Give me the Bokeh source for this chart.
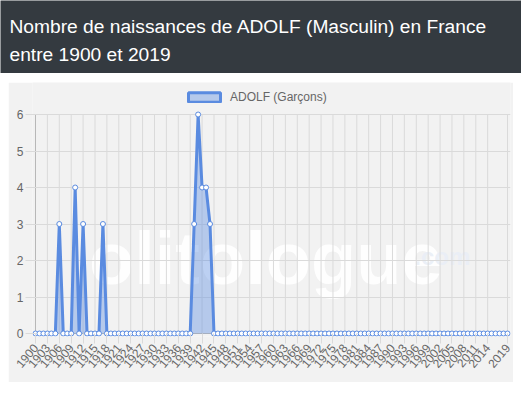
import math
from bokeh.plotting import figure
from bokeh.models import (Range1d, FixedTicker, Label, Legend, LegendItem,
                          ColumnDataSource, Spacer)
from bokeh.layouts import column, row
from bokeh.embed import file_html
from bokeh.resources import INLINE

# ---------------- data ----------------
years = list(range(1900, 2020))
births = [
    0, 0, 0, 0, 0, 0, 3, 0, 0, 0,   # 1900-1909
    4, 0, 3, 0, 0, 0, 0, 3, 0, 0,   # 1910-1919
    0, 0, 0, 0, 0, 0, 0, 0, 0, 0,   # 1920-1929
    0, 0, 0, 0, 0, 0, 0, 0, 0, 0,   # 1930-1939
    3, 6, 4, 4, 3, 0, 0, 0, 0, 0,   # 1940-1949
    0, 0, 0, 0, 0, 0, 0, 0, 0, 0,   # 1950-1959
    0, 0, 0, 0, 0, 0, 0, 0, 0, 0,   # 1960-1969
    0, 0, 0, 0, 0, 0, 0, 0, 0, 0,   # 1970-1979
    0, 0, 0, 0, 0, 0, 0, 0, 0, 0,   # 1980-1989
    0, 0, 0, 0, 0, 0, 0, 0, 0, 0,   # 1990-1999
    0, 0, 0, 0, 0, 0, 0, 0, 0, 0,   # 2000-2009
    0, 0, 0, 0, 0, 0, 0, 0, 0, 0,   # 2010-2019
]
x_tick_labels = ["1900", "1903", "1906", "1909", "1912", "1915", "1918", "1921",
                 "1924", "1927", "1930", "1933", "1936", "1939", "1942", "1945",
                 "1948", "1951", "1954", "1957", "1960", "1963", "1966", "1969",
                 "1972", "1975", "1978", "1981", "1984", "1987", "1990", "1993",
                 "1996", "1999", "2002", "2005", "2008", "2011", "2014", "2019"]
y_ticks = [0, 1, 2, 3, 4, 5, 6]
series_label = "ADOLF (Garçons)"
title_line1 = "Nombre de naissances de ADOLF (Masculin) en France"
title_line2 = "entre 1900 et 2019"

# ---------------- styles ----------------
FONT = "Liberation Sans"
LINE = "#5a8be0"
PANEL = "#f2f2f2"
GRID = "#dadada"
ZERO = "#b8b8b8"
DARK = "#343a40"

# ---------------- header (own root, full width) ----------------
HW, HH = 521, 73
hdr = figure(width=HW, height=HH, x_range=Range1d(0, HW), y_range=Range1d(HH, 0),
             output_backend="svg", toolbar_location=None,
             x_axis_location=None, y_axis_location=None,
             min_border=0, background_fill_color=DARK, border_fill_color=DARK,
             outline_line_color=None)
hdr.grid.visible = False
for txt, yy in ((title_line1, 26), (title_line2, 53.5)):
    hdr.add_layout(Label(x=9, y=yy, text=txt, text_color="white",
                         text_font=FONT, text_font_size="19.2px",
                         text_baseline="middle", text_align="left"))

# ---------------- chart ----------------
W, H = 505, 300
ml, mr, mt, mb = 24, 3, 0, 46
fw, fh = W - ml - mr, H - mt - mb          # frame size in px
x_px0, x_px1 = 3, fw - 3                    # px of first / last year in frame
y_px_top, y_px_bot = 32, fh - 3             # px (from frame top) of max / 0
xs = (years[-1] - years[0]) / (x_px1 - x_px0)
ys = (y_ticks[-1] - y_ticks[0]) / (y_px_bot - y_px_top)

p = figure(width=W, height=H,
           x_range=Range1d(years[0] - x_px0 * xs, years[-1] + (fw - x_px1) * xs),
           y_range=Range1d(y_ticks[0] - (fh - y_px_bot) * ys,
                           y_ticks[-1] + y_px_top * ys),
           output_backend="svg", toolbar_location=None,
           min_border_left=ml, min_border_right=mr,
           min_border_top=mt, min_border_bottom=mb,
           background_fill_color=PANEL, border_fill_color=PANEL,
           outline_line_color=None)

src = ColumnDataSource(dict(year=years, births=births))

# watermark
p.add_layout(Label(x=1913.5, y=2.05, text="olitologue", text_color="white",
                   text_alpha=0.9, text_font=FONT, text_font_style="bold",
                   text_font_size="74px", text_baseline="alphabetic",
                   level="image"))
p.add_layout(Label(x=1995.5, y=2.1, text=".com", text_color="#e9eef7",
                   text_alpha=0.9, text_font=FONT, text_font_style="bold",
                   text_font_size="24px", text_baseline="alphabetic",
                   level="image"))

x_ticks = [int(s) for s in x_tick_labels]

# vertical grid lines only over the value range, axis lines
p.segment(x0=x_ticks[1:], y0=y_ticks[0], x1=x_ticks[1:], y1=y_ticks[-1],
          line_color=GRID, line_width=1, level="underlay")
p.segment(x0=[years[0]], y0=y_ticks[0], x1=[years[0]], y1=y_ticks[-1],
          line_color=ZERO, line_width=1, level="underlay")
p.segment(x0=years[0], y0=[0], x1=years[-1], y1=[0],
          line_color=ZERO, line_width=1, level="underlay")

p.varea(x="year", y1=0, y2="births", source=src, fill_color=LINE, fill_alpha=0.4)
p.line(x="year", y="births", source=src, line_color=LINE, line_width=3,
       line_join="miter")
p.scatter(x="year", y="births", source=src, size=5, fill_color="white",
          line_color=LINE, line_width=1)

# legend swatch proxy (no visible geometry)
nan = float("nan")
proxy = p.quad(left=[nan], right=[nan], top=[nan], bottom=[nan], fill_color=LINE,
               fill_alpha=0.4, line_color=LINE, line_width=3)

p.xaxis.ticker = FixedTicker(ticks=x_ticks)
p.xaxis.major_label_overrides = {t: s for t, s in zip(x_ticks, x_tick_labels)}
p.xaxis.major_label_orientation = math.radians(50)
p.yaxis.ticker = FixedTicker(ticks=y_ticks)

for ax in (p.xaxis, p.yaxis):
    ax.axis_line_color = None
    ax.major_tick_line_color = GRID
    ax.major_tick_in = 3
    ax.major_tick_out = 7
    ax.minor_tick_line_color = None
    ax.major_label_text_font = FONT
    ax.major_label_text_font_size = "12px"
    ax.major_label_text_color = "#666666"
    ax.major_label_standoff = 2

p.xgrid.visible = False
p.ygrid.ticker = FixedTicker(ticks=y_ticks[1:])
p.ygrid.grid_line_color = GRID
p.ygrid.grid_line_width = 1

legend = Legend(items=[LegendItem(label=series_label, renderers=[proxy], index=0)],
                location=(152, fh - 22), orientation="horizontal",
                padding=0, margin=0, spacing=0,
                glyph_width=40, glyph_height=12, label_height=12,
                label_standoff=6, label_text_font=FONT,
                label_text_font_size="12px", label_text_color="#666666",
                border_line_color=None, background_fill_alpha=0)
p.add_layout(legend)

body = column(Spacer(height=9, width=W + 8),
              row(Spacer(width=8, height=H), p))

open("out.html", "w").write(file_html([hdr, body], INLINE))
